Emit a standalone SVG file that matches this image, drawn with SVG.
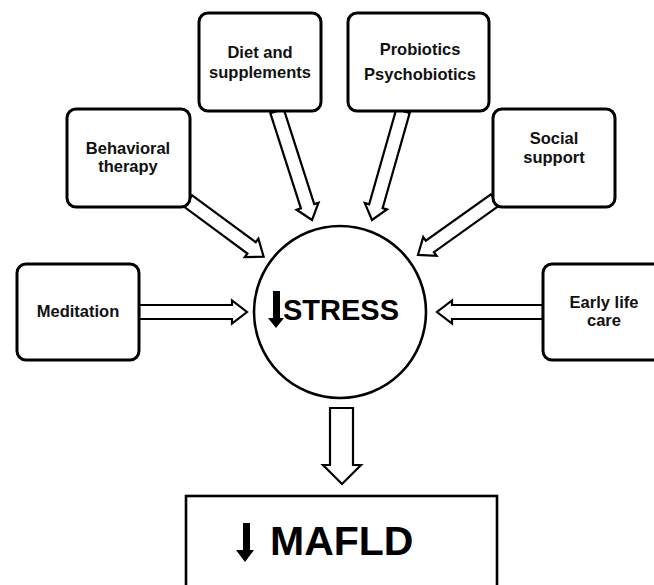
<svg xmlns="http://www.w3.org/2000/svg" width="654" height="585" viewBox="0 0 654 585">
<style>
.box{fill:#fff;stroke:#000;stroke-width:3}
.arr{fill:#fff;stroke:#000;stroke-width:2.2;stroke-linejoin:miter}
.t{font-family:"Liberation Sans",Arial,sans-serif;font-weight:bold;font-size:16.5px;fill:#111;text-anchor:middle}
.big{font-family:"Liberation Sans",Arial,sans-serif;font-weight:bold;fill:#000}
</style>
<rect width="654" height="585" fill="#fff"/>
<g id="connectors">
<polygon class="arr" transform="translate(139,312)" points="0,-7 93,-7 93,-11.5 108,0 93,11.5 93,7 0,7"/>
<polygon class="arr" transform="translate(543,312) rotate(180)" points="0,-7 91,-7 91,-11.5 106,0 91,11.5 91,7 0,7"/>
<polygon class="arr" transform="translate(188,201) rotate(36.4)" points="0,-7 79,-7 79,-11.5 94,0 79,11.5 79,7 0,7"/>
<polygon class="arr" transform="translate(277,111) rotate(72.2)" points="0,-7 100,-7 100,-11.5 114.5,0 100,11.5 100,7 0,7"/>
<polygon class="arr" transform="translate(403,111) rotate(105.9)" points="0,-7 99,-7 99,-11.5 113.3,0 99,11.5 99,7 0,7"/>
<polygon class="arr" transform="translate(495,200) rotate(144.5)" points="0,-7 80,-7 80,-11.5 94.6,0 80,11.5 80,7 0,7"/>
<polygon class="arr" points="330,408 353,408 353,465 361,465 342,484 323,465 330,465"/>
</g>
<g id="stress">
<circle cx="340" cy="312" r="86" fill="#fff" stroke="#000" stroke-width="2.6"/>
<polygon points="273,291 280,291 280,318 284,318 276,328 268,318 273,318" fill="#000"/>
<text class="big" x="283" y="320" font-size="29">STRESS</text>
</g>
<g id="meditation">
<rect class="box" x="17" y="264" width="122" height="96" rx="9"/>
<text class="t" x="78" y="317">Meditation</text>
</g>
<g id="behavioral">
<rect class="box" x="67" y="109" width="123" height="98" rx="9"/>
<text class="t" x="128" y="154">Behavioral</text>
<text class="t" x="128" y="172">therapy</text>
</g>
<g id="diet">
<rect class="box" x="199" y="13" width="122" height="98" rx="9"/>
<text class="t" x="260" y="58" font-size="17">Diet and</text>
<text class="t" x="260" y="78" font-size="17">supplements</text>
</g>
<g id="probiotics">
<rect class="box" x="348" y="13" width="141" height="98" rx="9"/>
<text class="t" x="420" y="55" font-size="17">Probiotics</text>
<text class="t" x="420" y="80" font-size="17">Psychobiotics</text>
</g>
<g id="social">
<rect class="box" x="493" y="109" width="122" height="98" rx="9"/>
<text class="t" x="554" y="144">Social</text>
<text class="t" x="554" y="163">support</text>
</g>
<g id="earlylife">
<rect class="box" x="543" y="264" width="125" height="96" rx="9"/>
<text class="t" x="604" y="308">Early life</text>
<text class="t" x="604" y="326">care</text>
</g>
<g id="mafld">
<rect x="186" y="496" width="311" height="110" fill="#fff" stroke="#000" stroke-width="2.6"/>
<polygon points="243,523 250,523 250,550 254,550 245,562 236,550 243,550" fill="#000"/>
<text class="big" x="270" y="555" font-size="41">MAFLD</text>
</g>
</svg>
